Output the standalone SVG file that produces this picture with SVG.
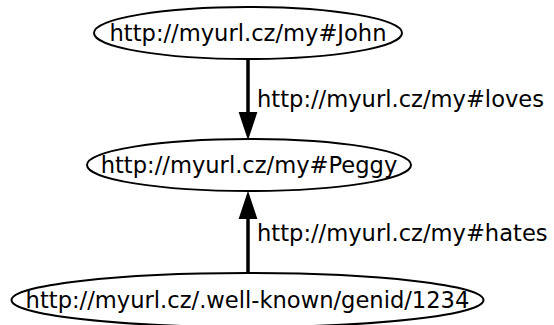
<svg xmlns="http://www.w3.org/2000/svg" width="554" height="325" viewBox="0 0 554 325">
<style>
.node ellipse{fill:none;stroke:#000;stroke-width:2}
text{font-family:"DejaVu Sans",sans-serif;font-size:22.6px;fill:#000}
.node text{text-anchor:middle}
.edge line{stroke:#000;stroke-width:3.5}
.edge polygon{fill:#000;stroke:#000;stroke-width:2}
</style>
<rect width="554" height="325" fill="#fff"/>
<g id="edges">
<g class="edge" id="e_loves">
<line x1="248" y1="59" x2="248" y2="116"/>
<polygon points="240,113 256,113 248,137"/>
<text x="257" y="107">http://myurl.cz/my#loves</text>
</g>
<g class="edge" id="e_hates">
<line x1="248" y1="273" x2="248" y2="215"/>
<polygon points="240,218 256,218 248,194"/>
<text x="257" y="241">http://myurl.cz/my#hates</text>
</g>
</g>
<g class="node" id="john">
<ellipse cx="248" cy="33" rx="154" ry="26"/>
<text x="248" y="41">http://myurl.cz/my#John</text>
</g>
<g class="node" id="peggy">
<ellipse cx="249" cy="165" rx="162" ry="26"/>
<text x="249" y="173">http://myurl.cz/my#Peggy</text>
</g>
<g class="node" id="genid">
<ellipse cx="247.5" cy="300" rx="236" ry="27"/>
<text x="247.5" y="308">http://myurl.cz/.well-known/genid/1234</text>
</g>
</svg>
